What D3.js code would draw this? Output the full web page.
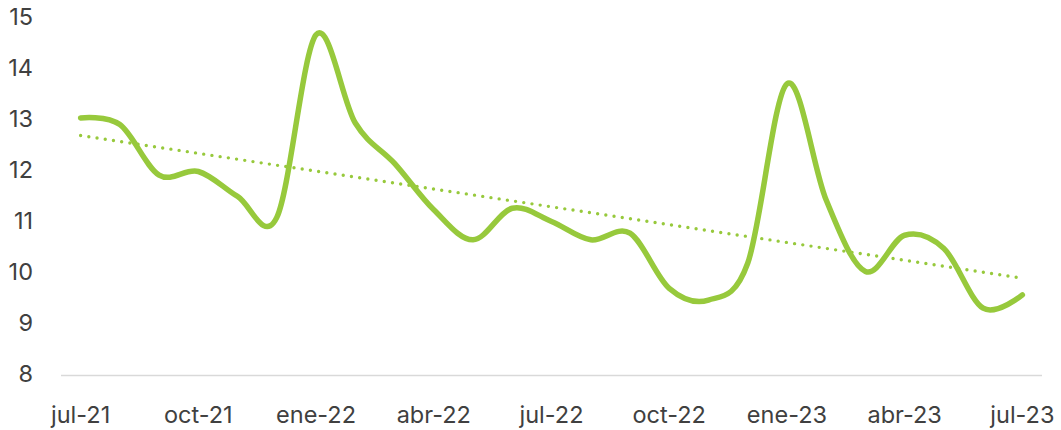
<!DOCTYPE html>
<meta charset="utf-8">
<html>
<head>
    <style>
        body { margin: 0; background: #fff; }
        .lbl { font-family: "Inter", "Noto Sans", sans-serif; font-size: 23.5px; fill: #404040; }
    </style>
    <script src="https://d3js.org/d3.v7.min.js"></script>
</head>
<body>
  <svg width="1061" height="430"></svg>
  <script>

      // monthly categories (jul-21 .. jul-23)
      var months = ["jul-21","ago-21","sep-21","oct-21","nov-21","dic-21",
                    "ene-22","feb-22","mar-22","abr-22","may-22","jun-22",
                    "jul-22","ago-22","sep-22","oct-22","nov-22","dic-22",
                    "ene-23","feb-23","mar-23","abr-23","may-23","jun-23","jul-23"];

      var values = [13.05, 12.92, 11.93, 12.00, 11.51, 11.10,
                    14.68, 12.95, 12.16, 11.25, 10.66, 11.28,
                    11.02, 10.66, 10.79, 9.71, 9.48, 10.20,
                    13.72, 11.44, 10.04, 10.75, 10.49, 9.32, 9.58];

      var xTickLabels = ["jul-21","oct-21","ene-22","abr-22","jul-22","oct-22","ene-23","abr-23","jul-23"];
      var yTicks = [8, 9, 10, 11, 12, 13, 14, 15];

      var svg = d3.select("svg"),
          plotLeft = 61, plotRight = 1042,
          plotTop = 18.5, plotBottom = 375.5;

      var x = d3.scalePoint().domain(months).range([plotLeft, plotRight]).padding(0.5),
          y = d3.scaleLinear().domain([8, 15]).range([plotBottom, plotTop]);

      // baseline
      svg.append("line")
         .attr("x1", plotLeft).attr("x2", plotRight)
         .attr("y1", y(8)).attr("y2", y(8))
         .attr("stroke", "#d9d9d9")
         .attr("stroke-width", 1.5);

      // y labels
      svg.selectAll(".ylbl")
         .data(yTicks)
         .enter().append("text")
         .attr("class", "lbl")
         .attr("x", 33)
         .attr("y", function(d) { return y(d) - 2; })
         .attr("dy", "0.35em")
         .attr("text-anchor", "end")
         .text(function(d) { return d; });

      // x labels
      svg.selectAll(".xlbl")
         .data(xTickLabels)
         .enter().append("text")
         .attr("class", "lbl")
         .attr("x", function(d) { return x(d); })
         .attr("y", 423)
         .attr("text-anchor", "middle")
         .text(function(d) { return d; });

      // linear trend (least squares on the series)
      var n = values.length,
          mx = d3.mean(values, function(d, i) { return i; }),
          my = d3.mean(values),
          sxy = d3.sum(values, function(d, i) { return (i - mx) * (d - my); }),
          sxx = d3.sum(values, function(d, i) { return (i - mx) * (i - mx); }),
          slope = sxy / sxx,
          icpt = my - slope * mx;

      var trend = [0, n - 1].map(function(i) { return [months[i], icpt + slope * i]; });

      svg.append("path")
         .datum(trend)
         .attr("fill", "none")
         .attr("stroke", "#97c93c")
         .attr("stroke-width", 3.4)
         .attr("stroke-linecap", "round")
         .attr("stroke-dasharray", "0 8.3")
         .attr("d", d3.line()
             .x(function(d) { return x(d[0]); })
             .y(function(d) { return y(d[1]); }));

      // smoothed series line
      svg.append("path")
         .datum(values)
         .attr("fill", "none")
         .attr("stroke", "#97c93c")
         .attr("stroke-width", 5.5)
         .attr("stroke-linecap", "round")
         .attr("stroke-linejoin", "round")
         .attr("d", d3.line()
             .curve(d3.curveCatmullRom.alpha(0))
             .x(function(d, i) { return x(months[i]); })
             .y(function(d) { return y(d); }));

  </script>
</body>
</html>
